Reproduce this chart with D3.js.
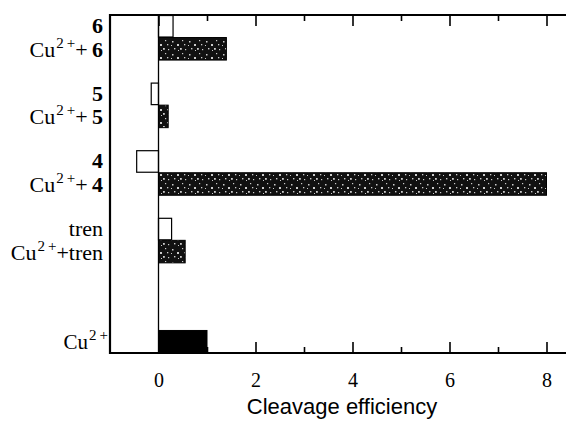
<!DOCTYPE html>
<html><head><meta charset="utf-8">
<script src="https://cdn.jsdelivr.net/npm/d3@7"></script>
<style>body{margin:0;background:#fff}svg{display:block}</style>
</head><body>
<script>
// ---- data ----
const ligands = ["6", "5", "4", "tren"];
const ligandAlone = [0.3, -0.15, -0.45, 0.27];      // white bars
const ligandWithCu = [1.4, 0.2, 8.0, 0.55];         // dark bars (Cu2+ + ligand)
const cuAloneLabel = "Cu";
const cuAloneValue = [1.0];
const xTicks = [0, 2, 4, 6, 8];
const xMinorTicks = [1, 3, 5, 7];
const xTitle = "Cleavage efficiency";

// ---- layout ----
const W = 566, H = 429;
const svg = d3.select("body").append("svg").attr("width", W).attr("height", H);
const mLeft = 110, mTop = 15, mBottom = 353;
const x = d3.scaleLinear().domain([-1, 8.6]).range([mLeft, mLeft + 9.6 * 48.5]);

// rows: each ligand gives two rows + gap; then 2 more gaps and Cu alone
const rows = [];
ligands.forEach((l, i) => { rows.push("a" + i, "c" + i, "g" + i); });
rows.push("g4", "g5", "cu");
const y = d3.scaleBand().domain(rows).range([mTop, mBottom]).paddingInner(0).paddingOuter(0);

// speckle pattern
const defs = svg.append("defs");
const pat = defs.append("pattern").attr("id", "speck").attr("patternUnits", "userSpaceOnUse")
  .attr("width", 17).attr("height", 13);
pat.append("rect").attr("width", 17).attr("height", 13).attr("fill", "#111");
[[2,2,1.5],[7,5,2],[12,1,1.2],[4,9,1.4],[10,9,1.8],[1,6,1],[14,5,1.3],[8,11,1],[15,10,1.2]].forEach(([px,py,s]) =>
  pat.append("rect").attr("x", px).attr("y", py).attr("width", s).attr("height", s).attr("fill", "#ccc"));

const g = svg.append("g");

// bars
const barData = [];
ligands.forEach((l, i) => {
  barData.push({row: "a" + i, v: ligandAlone[i], kind: "alone"});
  barData.push({row: "c" + i, v: ligandWithCu[i], kind: "cu"});
});
barData.push({row: "cu", v: cuAloneValue[0], kind: "black"});

g.selectAll("rect.bar").data(barData).join("rect").attr("class", "bar")
  .attr("x", d => x(Math.min(0, d.v)))
  .attr("width", d => Math.abs(x(d.v) - x(0)))
  .attr("y", d => y(d.row) + (d.kind === "alone" ? 0.5 : 0))
  .attr("height", d => y.bandwidth() - (d.kind === "alone" ? 1 : 0))
  .attr("fill", d => d.kind === "alone" ? "#fff" : d.kind === "cu" ? "url(#speck)" : "#000")
  .attr("stroke", "#000").attr("stroke-width", d => d.kind === "alone" ? 1.2 : 1);

// zero line
g.append("line").attr("x1", x(0)).attr("x2", x(0)).attr("y1", mTop).attr("y2", mBottom)
  .attr("stroke", "#000").attr("stroke-width", 1.3);

// bottom axis (ticks inward)
const bAxis = d3.axisBottom(x).tickValues(xTicks).tickSize(-11).tickPadding(20).tickFormat(d3.format("d"));
const bg = g.append("g").attr("transform", `translate(0,${mBottom})`).call(bAxis);
bg.select(".domain").remove();
bg.selectAll(".tick line").attr("stroke-width", 1.6);
bg.selectAll(".tick text").attr("font-family", "Liberation Serif, serif").attr("font-size", 20).attr("fill", "#000");
const bMinor = d3.axisBottom(x).tickValues(xMinorTicks).tickSize(-6).tickFormat("");
const bm = g.append("g").attr("transform", `translate(0,${mBottom})`).call(bMinor);
bm.select(".domain").remove();
bm.selectAll(".tick line").attr("stroke-width", 1.6);

// top axis (ticks inward)
const tAxis = d3.axisTop(x).tickValues(xTicks).tickSize(-11).tickFormat("");
const tg = g.append("g").attr("transform", `translate(0,${mTop})`).call(tAxis);
tg.select(".domain").remove();
tg.selectAll(".tick line").attr("stroke-width", 1.6);
const tMinor = d3.axisTop(x).tickValues(xMinorTicks).tickSize(-6).tickFormat("");
const tm = g.append("g").attr("transform", `translate(0,${mTop})`).call(tMinor);
tm.select(".domain").remove();
tm.selectAll(".tick line").attr("stroke-width", 1.6);

// frame lines
g.append("line").attr("x1", mLeft).attr("x2", W).attr("y1", mBottom).attr("y2", mBottom).attr("stroke", "#000").attr("stroke-width", 2.2);
g.append("line").attr("x1", mLeft).attr("x2", W).attr("y1", mTop).attr("y2", mTop).attr("stroke", "#000").attr("stroke-width", 2.2);
g.append("line").attr("x1", mLeft).attr("x2", mLeft).attr("y1", mTop - 1).attr("y2", mBottom + 1).attr("stroke", "#000").attr("stroke-width", 2.2);

// y labels
const lab = g.append("g").attr("font-family", "Liberation Serif, serif").attr("font-size", 22).attr("fill", "#000")
  .attr("text-anchor", "end");
function cuLabel(sel, suffix, bold) {
  sel.append("tspan").text(cuAloneLabel);
  sel.append("tspan").attr("font-size", 15).attr("dy", -9).attr("dx", 1).text("2\u2009+");
  if (suffix !== null) {
    sel.append("tspan").attr("dy", 9).text("+");
    sel.append("tspan").attr("font-weight", bold ? "bold" : "normal").text(bold ? "\u2009" + suffix : suffix);
  }
}
ligands.forEach((l, i) => {
  const bold = l !== "tren";
  lab.append("text").attr("x", 103).attr("y", y("a" + i) + y.bandwidth() / 2 + 7)
    .attr("font-weight", bold ? "bold" : "normal").text(l);
  const t = lab.append("text").attr("x", 103).attr("y", y("c" + i) + y.bandwidth() / 2 + 8);
  cuLabel(t, l, bold);
});
const tc = lab.append("text").attr("x", 108).attr("y", y("cu") + y.bandwidth() / 2 + 7).attr("font-size", 21);
cuLabel(tc, null, false);

// x title
svg.append("text").attr("x", 342).attr("y", 414).attr("text-anchor", "middle")
  .attr("font-family", "Liberation Sans, Arial, sans-serif").attr("font-size", 22).text(xTitle);
</script>
</body></html>
